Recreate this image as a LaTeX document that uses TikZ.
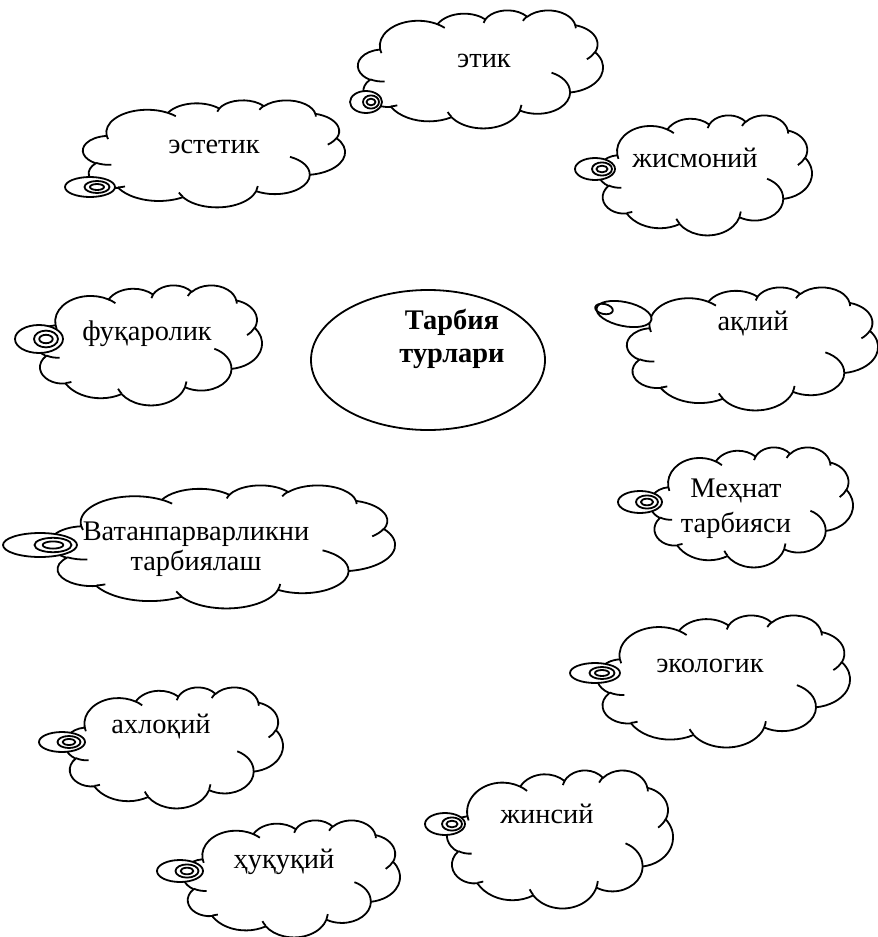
\documentclass[tikz,border=0pt]{standalone}
\usepackage{fontspec}
\setmainfont{Liberation Serif}
\usetikzlibrary{shapes.geometric}
\tikzset{
  cloudline/.style={line width=0.9pt, line join=round},
  cloudtext/.style={font=\fontsize{14.2}{17.5}\selectfont, align=center, inner sep=0pt},
}
\newcommand{\wordcloud}[4]{%
  \begin{scope}[shift={(#1,#2)}, xscale={(#3-#1)/43.2}, yscale={(#4-#2)/43.2}]
    \filldraw[cloudline, fill=white] (3.9,14.37)
      arc[start angle=-187.746, end angle=-59.634, x radius=6.753, y radius=9.19]
      arc[start angle=-152.024, end angle=-45.45, x radius=5.333, y radius=7.267]
      arc[start angle=-153.488, end angle=-37.33, x radius=4.365, y radius=5.945]
      arc[start angle=-139.714, end angle=-10.211, x radius=4.857, y radius=6.595]
      arc[start angle=-74.769, end angle=23.209, x radius=5.333, y radius=7.273]
      arc[start angle=-37.525, end angle=81.862, x radius=6.775, y radius=9.22]
      arc[start angle=0.46, end angle=121.976, x radius=5.785, y radius=7.867]
      arc[start angle=16.845, end angle=146.237, x radius=6.752, y radius=9.215]
      arc[start angle=58.992, end angle=150.185, x radius=7.72, y radius=10.543]
      arc[start angle=83.306, end angle=223.106, x radius=4.36, y radius=5.918]
      arc[start angle=120.354, end angle=264.113, x radius=4.345, y radius=5.945]
      -- cycle;
    \draw[cloudline]
      (4.693,26.177) arc[start angle=85.546, end angle=120.354, x radius=4.345, y radius=5.945]
      (6.928,34.899) arc[start angle=68.237, end angle=83.306, x radius=4.36, y radius=5.918]
      (16.478,39.09) arc[start angle=146.237, end angle=158.473, x radius=6.752, y radius=9.215]
      (28.827,34.751) arc[start angle=4.738, end angle=16.845, x radius=6.752, y radius=9.215]
      (34.129,22.954) arc[start angle=-64.029, end angle=0.46, x radius=5.785, y radius=7.867]
      (41.798,15.354) arc[start angle=23.209, end angle=49.638, x radius=5.333, y radius=7.273]
      (38.324,5.426) arc[start angle=-10.211, end angle=0.821, x radius=4.857, y radius=6.595]
      (29.078,3.952) arc[start angle=-156.282, end angle=-139.714, x radius=4.857, y radius=6.595]
      (22.141,4.72) arc[start angle=-167.725, end angle=-153.488, x radius=4.365, y radius=5.945]
      (14,5.192) arc[start angle=-59.634, end angle=-45.732, x radius=6.753, y radius=9.19]
      (4.127,15.789) arc[start angle=163.193, end angle=172.254, x radius=6.753, y radius=9.19];
  \end{scope}}

\begin{document}
\begin{tikzpicture}[x=0.5pt, y=-0.5pt]
    \useasboundingbox (0,0) rectangle (878,937);
    \foreach \l/\t/\r/\b/\tx/\ty/\trx/\try/\ix in {358/10/603/128/366/102/16/11/371, 83/100/345/207/90/187/25/10/97, 598/115/812/235/595/169/20/11/602, 35/285/262/405/39/339/24/14/46, 650/447/853/567/640/502/22/11/647, 50/485/395/608/40/545/37/12/53, 597/615/850/747/595/673/25/10/602, 65/687/283/808/62/742/23/10/69, 447/770/673/908/445/824/20/11/452, 183/820/400/937/180/871/23/11/187}{
        \wordcloud{\l}{\t}{\r}{\b}
        \filldraw[cloudline, fill = white] (\tx, \ty) ellipse[x radius = \trx, y radius = \try];
        \draw[cloudline] (\ix, \ty) ellipse[x radius = 0.5*\trx, y radius = 0.6*\try];
        \draw[cloudline] (\ix, \ty) ellipse[x radius = 0.28*\trx, y radius = 0.3*\try];
    }
    \wordcloud{627}{287}{878}{410}
    \filldraw[cloudline, fill = white, rotate around = {-12:(624,314)}] (624, 314) ellipse[x radius = 28, y radius = 12];
    \draw[cloudline, rotate around = {-12:(604,309)}] (604, 309) ellipse[x radius = 9, y radius = 5];
    \node[draw, ellipse, cloudline, minimum width = 117pt, minimum height = 70pt, inner sep = 0pt] (tarbiya) at (428, 360) {};
    \node[cloudtext, font = \fontsize{14.2}{16.5}\selectfont\bfseries] (turlari) at (452, 339) {Тарбия\\турлари};
    \node[cloudtext, anchor = base] (etik) at (484, 67) {этик};
    \node[cloudtext, anchor = base] (estetik) at (214, 153) {эстетик};
    \node[cloudtext, anchor = base] (jismoniy) at (695, 167) {жисмоний};
    \node[cloudtext, anchor = base] (fuqarolik) at (147, 340) {фуқаролик};
    \node[cloudtext, anchor = base] (aqliy) at (753, 330) {ақлий};
    \node[cloudtext] (mehnat) at (736, 509) {Меҳнат\\тарбияси};
    \node[cloudtext, font = \fontsize{14.2}{15}\selectfont] (vatan) at (196, 549) {Ватанпарварликни\\тарбиялаш};
    \node[cloudtext, anchor = base] (ekologik) at (710, 672) {экологик};
    \node[cloudtext, anchor = base] (axloqiy) at (161, 733) {ахлоқий};
    \node[cloudtext, anchor = base] (jinsiy) at (547, 823) {жинсий};
    \node[cloudtext, anchor = base] (huquqiy) at (284, 868) {ҳуқуқий};
\end{tikzpicture}
\end{document}
